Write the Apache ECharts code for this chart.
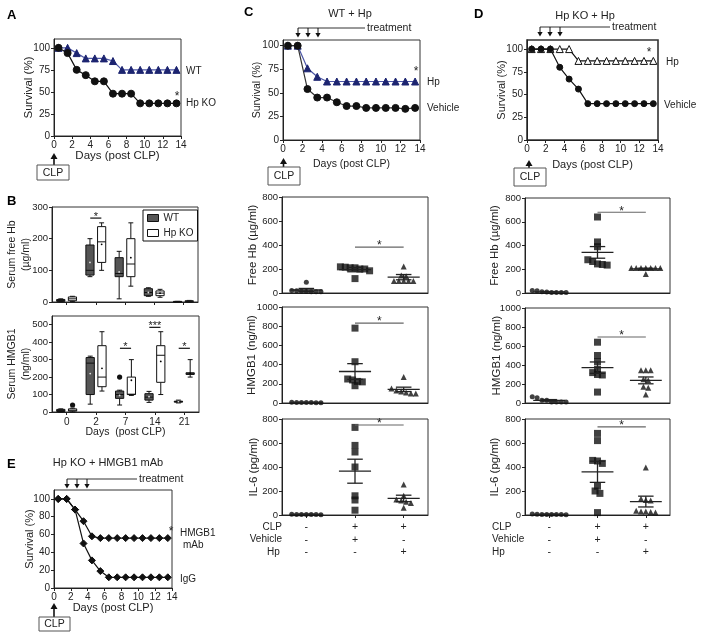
<!DOCTYPE html>
<html>
<head>
<meta charset="utf-8">
<title>Hp / HMGB1 after CLP</title>
<script src="https://cdn.jsdelivr.net/npm/echarts@6/dist/echarts.min.js"></script>
<style>
  html, body { margin: 0; padding: 0; background: #fff; }
  #chart { width: 701px; height: 641px; }
</style>
</head>
<body>
<div id="chart"></div>
<script>
// survival curves: one point per day after CLP
var days = [0.5, 1.5, 2.5, 3.5, 4.5, 5.5, 6.5, 7.5, 8.5, 9.5, 10.5, 11.5, 12.5, 13.5];
var survA_WT = [100, 100, 94, 88, 88, 88, 85, 75, 75, 75, 75, 75, 75, 75];
var survA_KO = [100, 94, 75, 69, 62, 62, 48, 48, 48, 37, 37, 37, 37, 37];
var survC_Hp = [100, 100, 76, 67, 62, 62, 62, 62, 62, 62, 62, 62, 62, 62];
var survC_Veh = [100, 100, 54, 45, 45, 40, 36, 36, 34, 34, 34, 34, 33, 34];
var survD_Hp = [100, 100, 100, 100, 100, 87, 87, 87, 87, 87, 87, 87, 87, 87];
var survD_Veh = [100, 100, 100, 80, 67, 56, 40, 40, 40, 40, 40, 40, 40, 40];
var survE_mAb = [100, 100, 88, 75, 58, 56, 56, 56, 56, 56, 56, 56, 56, 56];
var survE_IgG = [100, 100, 88, 50, 31, 19, 12, 12, 12, 12, 12, 12, 12, 12];

// box plots (B): [min, q1, median, q3, max, mean]
var boxDays = ['0', '2', '7', '14', '21'];
var hbWT = [[1, 2, 5, 8, 10, null], [80, 85, 100, 180, 200, 125], [10, 80, 90, 140, 160, 95], [18, 20, 30, 42, 45, 30], [0, 0, 1, 2, 2, null]];
var hbKO = [[2, 4, 10, 16, 18, null], [100, 125, 190, 238, 250, 182], [50, 80, 120, 200, 250, 140], [15, 20, 28, 35, 40, 28], [0, 1, 2, 4, 5, null]];
var hmgbWT = [[0, 3, 8, 15, 18, null], [45, 100, 280, 312, 320, 220], [40, 78, 100, 120, 125, 95], [55, 68, 85, 105, 118, 88], [52, 58, 60, 62, 68, 60]];
var hmgbKO = [[0, 5, 10, 18, 22, null], [120, 145, 200, 380, 460, 250], [95, 100, 102, 200, 300, 182], [100, 170, 325, 380, 460, 290], [200, 215, 220, 225, 300, 222]];
var hmgbWTout = [null, null, 200, null, null];
var hmgbKOout = [40, null, null, null, null];
var sigBhb = [[1, 265, '*']];
var sigBhmgb = [[2, 365, '*'], [3, 485, '***'], [4, 365, '*']];

// scatter groups (C, D): sham / CLP+vehicle / CLP+Hp
var tabCLP = ['-', '+', '+'];
var tabVeh = ['-', '+', '-'];
var tabHp = ['-', '-', '+'];

var cHb = [[90, 20, 18, 15, 12, 10, 10, 10], [218, 215, 210, 210, 200, 200, 185, 120], [220, 145, 140, 100, 100, 100, 100, 100]];
var cHbMean = [25, 195, 132], cHbSem = [13, 18, 22];
var cHmgb = [[8, 6, 5, 5, 4, 3, 3], [780, 430, 250, 240, 225, 220, 180], [270, 150, 130, 120, 110, 100, 100]];
var cHmgbMean = [5, 328, 142], cHmgbSem = [1, 82, 23];
var cIl6 = [[6, 5, 5, 5, 4, 4, 3], [730, 580, 525, 400, 160, 125, 40], [255, 160, 130, 120, 110, 100, 60]];
var cIl6Mean = [5, 365, 138], cIl6Sem = [1, 100, 27];

var dHb = [[22, 18, 10, 8, 5, 5, 5, 5], [640, 430, 390, 280, 265, 245, 240, 235], [210, 210, 210, 210, 210, 210, 210, 160]];
var dHbMean = [10, 342, 203], dHbSem = [2, 49, 6];
var dHmgb = [[65, 55, 30, 30, 10, 10, 10, 10], [640, 500, 435, 355, 320, 300, 295, 115], [345, 345, 345, 250, 240, 170, 160, 90]];
var dHmgbMean = [28, 372, 238], dHmgbSem = [8, 60, 36];
var dIl6 = [[8, 6, 5, 5, 5, 4, 4, 3], [680, 620, 455, 450, 430, 240, 200, 180, 20], [395, 135, 125, 120, 35, 30, 30, 25, 20]];
var dIl6Mean = [5, 360, 112], dIl6Sem = [1, 88, 45];

var sigC = [[2, 383], [2, 833], [2, 750]];
var sigD = [[2, 680], [2, 695], [2, 735]];

var FONT = '"Liberation Sans", Arial, sans-serif';
var INK = '#222';
var NAVY = '#1c2470';

function font(size, bold) { return (bold ? 'bold ' : '') + size + 'px ' + FONT; }

function mkGrid(left, top, width, height, bw) {
    return {
        left: left, top: top, width: width, height: height, show: true,
        borderColor: '#333', borderWidth: bw || 1, backgroundColor: 'rgba(0,0,0,0)',
        outerBoundsMode: 'none'
    };
}

function line() { return { show: true, onZero: false, lineStyle: { color: INK, width: 1 } }; }

function valueY(gi, max, ticks, name, gap, nameSize, labelSize) {
    return {
        type: 'value', gridIndex: gi, min: 0, max: max,
        axisLine: line(),
        axisTick: { show: true, length: 3, customValues: ticks, lineStyle: { color: INK } },
        axisLabel: {
            customValues: ticks, color: INK, fontSize: labelSize, fontFamily: FONT, margin: 4,
            formatter: function (v) { return String(v); }
        },
        splitLine: { show: false },
        name: name, nameLocation: 'middle', nameGap: gap, nameMoveOverlap: false,
        nameTextStyle: { color: INK, fontSize: nameSize, fontFamily: FONT, lineHeight: 14 }
    };
}

function dayX(gi, gap, nameSize) {
    return {
        type: 'value', gridIndex: gi, min: 0, max: 14, interval: 2,
        axisLine: line(),
        axisTick: { show: true, length: 3, lineStyle: { color: INK } },
        axisLabel: { color: INK, fontSize: 10, fontFamily: FONT, margin: 4 },
        splitLine: { show: false },
        name: 'Days (post CLP)', nameLocation: 'middle', nameGap: gap, nameMoveOverlap: false,
        nameTextStyle: { color: INK, fontSize: nameSize, fontFamily: FONT }
    };
}

function boxX(gi, withLabels) {
    return {
        type: 'category', gridIndex: gi, data: boxDays, boundaryGap: true,
        axisLine: line(),
        axisTick: { show: true, length: 3, alignWithLabel: true, lineStyle: { color: INK } },
        axisLabel: { show: withLabels, color: INK, fontSize: 10, fontFamily: FONT, margin: 5 },
        splitLine: { show: false },
        name: withLabels ? 'Days  (post CLP)' : '', nameLocation: 'middle', nameGap: 15, nameMoveOverlap: false,
        nameTextStyle: { color: INK, fontSize: 10.5, fontFamily: FONT }
    };
}

function groupX(gi, withTable) {
    var centers = [0.5, 1.5, 2.5];
    return {
        type: 'value', gridIndex: gi, min: 0, max: 3,
        axisLine: line(),
        axisTick: { show: withTable, length: 3, customValues: centers, lineStyle: { color: INK } },
        axisLabel: {
            show: withTable, customValues: centers, color: INK, fontSize: 10.5, fontFamily: FONT,
            margin: 6, lineHeight: 12.5,
            formatter: function (v) {
                var k = Math.round(v - 0.5);
                return [tabCLP[k], tabVeh[k], tabHp[k]].join('\n');
            }
        },
        splitLine: { show: false }
    };
}

function survSeries(gi, vals, symbol, size, stroke, fill, lineColor) {
    return {
        type: 'line', xAxisIndex: gi, yAxisIndex: gi,
        data: days.map(function (d, i) { return [d, vals[i]]; }),
        symbol: symbol, symbolSize: size, showSymbol: true, showAllSymbol: true,
        itemStyle: { color: fill, borderColor: stroke, borderWidth: 1 },
        lineStyle: { color: lineColor, width: 1.2 },
        emphasis: { disabled: true }, silent: true
    };
}

function boxSeries(name, gi, rows, outs, side, fill, dot) {
    return {
        type: 'custom', name: name, xAxisIndex: gi, yAxisIndex: gi, silent: true,
        data: rows.map(function (r, i) { return [i, r[0], r[4]]; }),
        encode: { x: 0, y: [1, 2] },
        renderItem: function (params, api) {
            var i = params.dataIndex;
            var r = rows[i];
            var band = api.size([1, 0])[0];
            var cx = api.coord([i, 0])[0] + side * band * 0.2;
            var hw = band * 0.14;
            var cw = hw * 0.6;
            var Y = function (v) { return api.coord([i, v])[1]; };
            var ls = { stroke: '#111', lineWidth: 1 };
            var kids = [
                { type: 'line', shape: { x1: cx, y1: Y(r[4]), x2: cx, y2: Y(r[3]) }, style: ls },
                { type: 'line', shape: { x1: cx, y1: Y(r[1]), x2: cx, y2: Y(r[0]) }, style: ls },
                { type: 'line', shape: { x1: cx - cw, y1: Y(r[4]), x2: cx + cw, y2: Y(r[4]) }, style: ls },
                { type: 'line', shape: { x1: cx - cw, y1: Y(r[0]), x2: cx + cw, y2: Y(r[0]) }, style: ls },
                { type: 'rect', shape: { x: cx - hw, y: Y(r[3]), width: 2 * hw, height: Math.max(1, Y(r[1]) - Y(r[3])) }, style: { fill: fill, stroke: '#111', lineWidth: 1 } },
                { type: 'line', shape: { x1: cx - hw, y1: Y(r[2]), x2: cx + hw, y2: Y(r[2]) }, style: ls }
            ];
            if (r[5] != null) kids.push({ type: 'circle', shape: { cx: cx, cy: Y(r[5]), r: 0.9 }, style: { fill: dot } });
            if (outs && outs[i] != null) kids.push({ type: 'circle', shape: { cx: cx, cy: Y(outs[i]), r: 2.6 }, style: { fill: '#111' } });
            return { type: 'group', children: kids };
        }
    };
}

function sigSeries(gi, rows, half, color, size) {
    return {
        type: 'custom', xAxisIndex: gi, yAxisIndex: gi, silent: true, z: 4,
        data: rows.map(function (r) { return [r[0], r[1]]; }),
        renderItem: function (params, api) {
            var r = rows[params.dataIndex];
            var band = api.size([1, 0])[0];
            var p = api.coord([r[0], r[1]]);
            return {
                type: 'group', children: [
                    { type: 'line', shape: { x1: p[0] - half * band, y1: p[1], x2: p[0] + half * band, y2: p[1] }, style: { stroke: color, lineWidth: 1.2 } },
                    { type: 'text', x: p[0], y: p[1] - 1, style: { text: r[2] || '*', font: font(size), fill: INK, align: 'center', verticalAlign: 'middle' } }
                ]
            };
        }
    };
}

function semSeries(gi, means, sems) {
    return {
        type: 'custom', xAxisIndex: gi, yAxisIndex: gi, silent: true, z: 3,
        data: means.map(function (m, i) { return [i + 0.5, m]; }),
        renderItem: function (params, api) {
            var i = params.dataIndex;
            var band = api.size([1, 0])[0];
            var c = api.coord([i + 0.5, means[i]]);
            var yt = api.coord([i + 0.5, means[i] + sems[i]])[1];
            var yb = api.coord([i + 0.5, Math.max(0, means[i] - sems[i])])[1];
            var st = { stroke: INK, lineWidth: 1.3 };
            return {
                type: 'group', children: [
                    { type: 'line', shape: { x1: c[0] - 0.33 * band, y1: c[1], x2: c[0] + 0.33 * band, y2: c[1] }, style: st },
                    { type: 'line', shape: { x1: c[0], y1: yt, x2: c[0], y2: yb }, style: st },
                    { type: 'line', shape: { x1: c[0] - 0.16 * band, y1: yt, x2: c[0] + 0.16 * band, y2: yt }, style: st },
                    { type: 'line', shape: { x1: c[0] - 0.16 * band, y1: yb, x2: c[0] + 0.16 * band, y2: yb }, style: st }
                ]
            };
        }
    };
}

// points of similar value sit side by side in a row, like a prism scatter
function swarm(vals, center, tol, step) {
    var sorted = vals.slice().sort(function (a, b) { return b - a; });
    var rows = [];
    sorted.forEach(function (v) {
        var r = rows[rows.length - 1];
        if (r && r[r.length - 1] - v <= tol) r.push(v); else rows.push([v]);
    });
    var pts = [];
    rows.forEach(function (r) {
        r.forEach(function (v, j) { pts.push([center + (j - (r.length - 1) / 2) * step, v]); });
    });
    return pts;
}

function dotSeries(gi, groups, tol) {
    var shapes = ['circle', 'rect', 'triangle'];
    var sizes = [5, 7, 6];
    return groups.map(function (vals, g) {
        return {
            type: 'scatter', xAxisIndex: gi, yAxisIndex: gi, silent: true, z: 2,
            symbol: shapes[g], symbolSize: sizes[g], itemStyle: { color: '#111' },
            data: swarm(vals, g + 0.5, tol, 0.1)
        };
    });
}

// ---- decorations
var gfx = [];
function text(str, x, y, size, o) {
    gfx.push({
        type: 'text', x: x, y: y, silent: true,
        style: Object.assign({ text: str, font: font(size), fill: INK, align: 'left', verticalAlign: 'middle' }, o || {})
    });
}
function letter(str, x, y) { text(str, x, y, 13, { font: font(13, true), verticalAlign: 'top', fill: '#000' }); }
function clpBox(ax, x, y, w, h, headTop) {
    gfx.push({ type: 'line', silent: true, shape: { x1: ax, y1: y, x2: ax, y2: headTop + 3 }, style: { stroke: '#111', lineWidth: 1.6 } });
    gfx.push({ type: 'polygon', silent: true, shape: { points: [[ax, headTop], [ax - 3.5, headTop + 6], [ax + 3.5, headTop + 6]] }, style: { fill: '#111' } });
    gfx.push({ type: 'rect', silent: true, shape: { x: x, y: y, width: w, height: h }, style: { fill: '#fff', stroke: '#555', lineWidth: 1 } });
    text('CLP', x + w / 2, y + h / 2 + 0.5, 10.5, { align: 'center' });
}
function treatment(x0, x1, y, arrows) {
    gfx.push({ type: 'line', silent: true, shape: { x1: x0, y1: y, x2: x1, y2: y }, style: { stroke: '#333', lineWidth: 1 } });
    arrows.forEach(function (ax) {
        gfx.push({ type: 'line', silent: true, shape: { x1: ax, y1: y, x2: ax, y2: y + 6 }, style: { stroke: '#111', lineWidth: 1 } });
        gfx.push({ type: 'polygon', silent: true, shape: { points: [[ax - 2.6, y + 5], [ax + 2.6, y + 5], [ax, y + 9.5]] }, style: { fill: '#111' } });
    });
    text('treatment', x1 + 2, y + 0.5, 10.5);
}

letter('A', 7, 9);
letter('B', 7, 194.5);
letter('C', 244, 5.5);
letter('D', 474, 7.5);
letter('E', 7, 457.5);

text('WT + Hp', 350, 14, 11, { align: 'center' });
text('Hp KO + Hp', 585, 16, 11, { align: 'center' });
text('Hp KO + HMGB1 mAb', 108, 463, 11, { align: 'center' });

treatment(298, 365, 28, [298, 308, 318]);
treatment(540, 610, 27, [540, 550, 560]);
treatment(67, 137, 479, [67, 77, 87]);

clpBox(54, 37, 165, 32, 15, 153);
clpBox(283.5, 268, 167, 32, 18, 158);
clpBox(529, 514, 168, 32, 18, 160);
clpBox(54, 39, 617, 31, 14, 603);

text('WT', 186, 71, 10);
text('Hp KO', 186, 103, 10);
text('*', 177, 97, 12, { align: 'center' });
text('Hp', 427, 82, 10);
text('Vehicle', 427, 108, 10);
text('*', 416, 71.5, 12, { align: 'center' });
text('Hp', 666, 62, 10);
text('Vehicle', 664, 105, 10);
text('*', 649, 52.5, 12, { align: 'center' });
text('HMGB1', 180, 533, 10);
text('mAb', 183, 545, 10);
text('IgG', 180, 579, 10);
text('*', 171, 531.5, 12, { align: 'center' });

text('CLP', 282, 527, 10, { align: 'right' });
text('Vehicle', 282, 539.5, 10, { align: 'right' });
text('Hp', 267, 552, 10);
text('CLP', 492, 527, 10);
text('Vehicle', 492, 539.5, 10);
text('Hp', 492, 552, 10);

var option = {
    animation: false,
    textStyle: { fontFamily: FONT },
    grid: [
        mkGrid(54, 39, 127, 97),        // 0 A
        mkGrid(52, 207, 146, 95),       // 1 B free Hb
        mkGrid(52, 316, 147, 96),       // 2 B HMGB1
        mkGrid(54, 490, 118, 98),       // 3 E
        mkGrid(283, 40, 137, 100),      // 4 C survival
        mkGrid(282, 197, 146, 96),      // 5 C free Hb
        mkGrid(282, 307, 146, 96),      // 6 C HMGB1
        mkGrid(282, 419, 146, 96),      // 7 C IL-6
        mkGrid(527, 40, 131, 100, 1.6), // 8 D survival
        mkGrid(525, 198, 145, 95),      // 9 D free Hb
        mkGrid(525, 308, 145, 95),      // 10 D HMGB1
        mkGrid(525, 419, 145, 96)       // 11 D IL-6
    ],
    xAxis: [
        dayX(0, 14, 11.5),
        boxX(1, false),
        boxX(2, true),
        dayX(3, 14, 11),
        dayX(4, 19, 10.5),
        groupX(5, false),
        groupX(6, false),
        groupX(7, true),
        dayX(8, 19, 11),
        groupX(9, false),
        groupX(10, false),
        groupX(11, true)
    ],
    yAxis: [
        valueY(0, 110, [0, 25, 50, 75, 100], 'Survival (%)', 18.5, 11.5, 10),
        valueY(1, 300, [0, 100, 200, 300], 'Serum free Hb\n(µg/ml)', 19, 10.5, 9.5),
        valueY(2, 550, [0, 100, 200, 300, 400, 500], 'Serum HMGB1\n(ng/ml)', 19, 10.5, 9.5),
        valueY(3, 110, [0, 20, 40, 60, 80, 100], 'Survival (%)', 17.5, 11, 10),
        valueY(4, 106, [0, 25, 50, 75, 100], 'Survival (%)', 19, 10.5, 10),
        valueY(5, 800, [0, 200, 400, 600, 800], 'Free Hb (µg/ml)', 22.5, 11.5, 9.5),
        valueY(6, 1000, [0, 200, 400, 600, 800, 1000], 'HMGB1 (ng/ml)', 23.5, 11.5, 9.5),
        valueY(7, 800, [0, 200, 400, 600, 800], 'IL-6 (pg/ml)', 21.5, 11.5, 9.5),
        valueY(8, 110, [0, 25, 50, 75, 100], 'Survival (%)', 18.5, 11, 10),
        valueY(9, 800, [0, 200, 400, 600, 800], 'Free Hb (µg/ml)', 23.5, 11.5, 9.5),
        valueY(10, 1000, [0, 200, 400, 600, 800, 1000], 'HMGB1 (ng/ml)', 21.5, 11.5, 9.5),
        valueY(11, 800, [0, 200, 400, 600, 800], 'IL-6 (pg/ml)', 23.5, 11.5, 9.5)
    ],
    legend: {
        orient: 'vertical', left: 143, top: 210, padding: [3, 4, 3, 4], itemGap: 5,
        itemWidth: 11, itemHeight: 7, icon: 'rect', selectedMode: false,
        borderColor: '#111', borderWidth: 1, backgroundColor: '#fff',
        textStyle: { fontSize: 10, color: INK, fontFamily: FONT },
        data: [
            { name: 'WT', itemStyle: { color: '#555', borderColor: '#111', borderWidth: 1 } },
            { name: 'Hp KO', itemStyle: { color: '#fff', borderColor: '#111', borderWidth: 1 } }
        ]
    },
    series: [
        survSeries(0, survA_WT, 'triangle', 7, NAVY, NAVY, '#4d57a6'),
        survSeries(0, survA_KO, 'circle', 7, '#111', '#111', '#111'),
        survSeries(4, survC_Hp, 'triangle', 7, NAVY, NAVY, '#4d57a6'),
        survSeries(4, survC_Veh, 'circle', 7, '#111', '#111', '#333'),
        survSeries(8, survD_Hp, 'triangle', 7, '#111', '#fff', '#111'),
        survSeries(8, survD_Veh, 'circle', 6, '#111', '#111', '#111'),
        survSeries(3, survE_IgG, 'diamond', 7, '#111', '#111', '#111'),
        survSeries(3, survE_mAb, 'diamond', 7, '#111', '#111', '#111'),

        boxSeries('WT', 1, hbWT, null, -1, '#555', '#ddd'),
        boxSeries('Hp KO', 1, hbKO, null, 1, '#fff', '#000'),
        boxSeries('WT', 2, hmgbWT, hmgbWTout, -1, '#555', '#ddd'),
        boxSeries('Hp KO', 2, hmgbKO, hmgbKOout, 1, '#fff', '#000'),
        sigSeries(1, sigBhb, 0.19, '#111', 11),
        sigSeries(2, sigBhmgb, 0.19, '#111', 11)
    ]
        .concat(dotSeries(5, cHb, 24)).concat([semSeries(5, cHbMean, cHbSem), sigSeries(5, [sigC[0]], 0.5, '#666', 12)])
        .concat(dotSeries(6, cHmgb, 30)).concat([semSeries(6, cHmgbMean, cHmgbSem), sigSeries(6, [sigC[1]], 0.5, '#666', 12)])
        .concat(dotSeries(7, cIl6, 24)).concat([semSeries(7, cIl6Mean, cIl6Sem), sigSeries(7, [sigC[2]], 0.5, '#666', 12)])
        .concat(dotSeries(9, dHb, 24)).concat([semSeries(9, dHbMean, dHbSem), sigSeries(9, [sigD[0]], 0.5, '#666', 12)])
        .concat(dotSeries(10, dHmgb, 30)).concat([semSeries(10, dHmgbMean, dHmgbSem), sigSeries(10, [sigD[1]], 0.5, '#666', 12)])
        .concat(dotSeries(11, dIl6, 24)).concat([semSeries(11, dIl6Mean, dIl6Sem), sigSeries(11, [sigD[2]], 0.5, '#666', 12)]),
    graphic: { elements: gfx }
};

var chart = echarts.init(document.getElementById('chart'), null, { renderer: 'canvas' });
chart.setOption(option);
</script>
</body>
</html>
